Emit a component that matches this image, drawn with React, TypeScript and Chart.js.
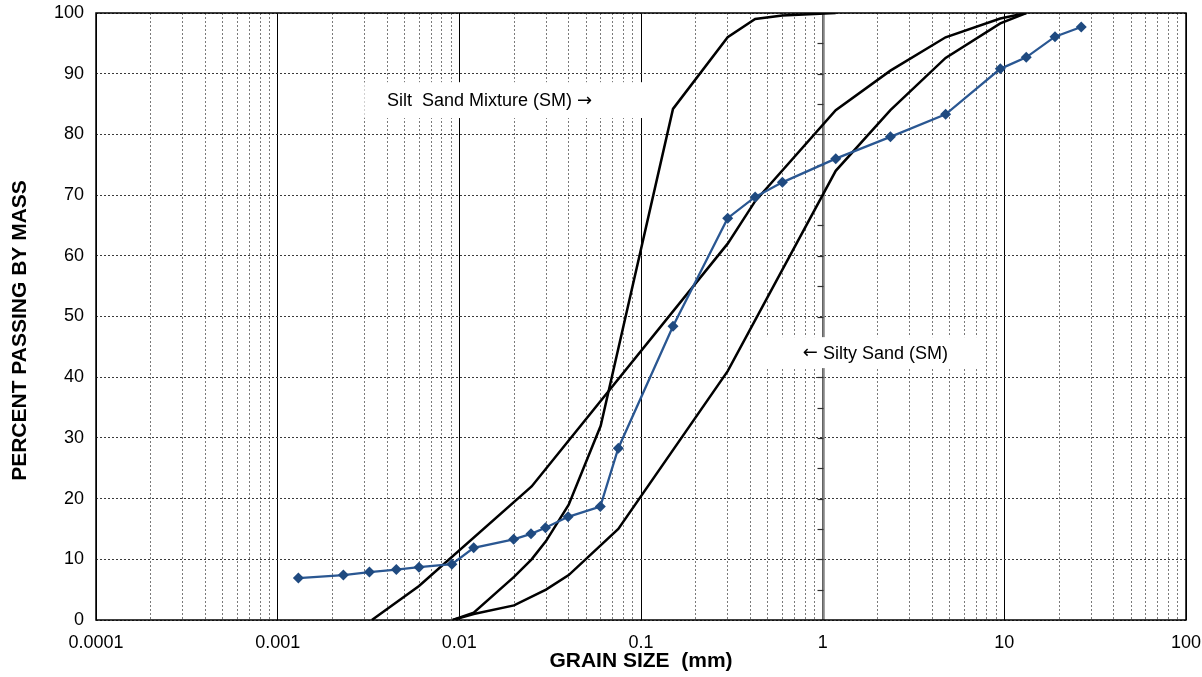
import React, { useEffect, useRef } from "react";
import { Chart, registerables } from "chart.js";

Chart.register(...registerables);

// ---- data (grain size in mm, percent passing) ----
const sampleSize = [0.0013, 0.0023, 0.0032, 0.0045, 0.006, 0.0091, 0.012, 0.0199, 0.0248, 0.0298, 0.0397, 0.0597, 0.075, 0.15, 0.3, 0.425, 0.6, 1.18, 2.36, 4.75, 9.5, 13.2, 19, 26.5];
const samplePassing = [6.9, 7.4, 7.9, 8.3, 8.7, 9.2, 11.9, 13.3, 14.2, 15.2, 17.0, 18.7, 28.3, 48.4, 66.2, 69.7, 72.1, 76.0, 79.6, 83.3, 90.8, 92.7, 96.1, 97.7];

const siltSandSize = [0.0092, 0.012, 0.02, 0.025, 0.03, 0.04, 0.06, 0.15, 0.3, 0.425, 0.6, 1.18];
const siltSandPassing = [0, 1.2, 7.1, 10, 13, 19, 32, 84.2, 96, 99, 99.6, 100];

const siltySandFineSize = [0.0033, 0.006, 0.025, 0.3, 0.425, 1.18, 2.36, 4.75, 9.5, 13.2];
const siltySandFinePassing = [0, 5.6, 22, 62, 69, 84, 90.5, 96, 99.1, 100];

const siltySandCoarseSize = [0.0092, 0.012, 0.02, 0.03, 0.04, 0.075, 0.3, 1.18, 2.36, 4.75, 9.5, 13.2];
const siltySandCoarsePassing = [0, 1, 2.4, 5, 7.4, 15, 41, 74, 84, 92.6, 98.3, 100];

const decadeValues = [0.0001, 0.001, 0.01, 0.1, 1, 10, 100];
const decadeLabels = ["0.0001", "0.001", "0.01", "0.1", "1", "10", "100"];
const gridMultipliers = [1, 2, 3, 4, 5, 6, 7, 8, 9];

const percentTicks = [0, 10, 20, 30, 40, 50, 60, 70, 80, 90, 100];

const yTitle = "PERCENT PASSING BY MASS";
const xTitle = "GRAIN SIZE  (mm)";
const noteTexts = ["Silt  Sand Mixture (SM) ", "\u2192", "\u2190", " Silty Sand (SM)"];

const FONT = "'Liberation Sans', Arial, sans-serif";
const ARROW_FONT = "'DejaVu Sans', sans-serif";

const toPoints = (xs: number[], ys: number[]) => xs.map((x, i) => ({ x, y: ys[i] }));

const isDecade = (v: number) => decadeValues.some((d) => Math.abs(Math.log10(v) - Math.log10(d)) < 1e-6);

const notes = [
  { parts: [{ t: noteTexts[0], f: FONT }, { t: noteTexts[1], f: ARROW_FONT }], x0: 0.003, x1: 0.14, yTop: 88.6, yBottom: 82.7, textX: 0.004 },
  { parts: [{ t: noteTexts[2], f: ARROW_FONT }, { t: noteTexts[3], f: FONT }], x0: 0.486, x1: 7.8, yTop: 46.6, yBottom: 41.5, textX: 0.778 },
];

const decorPlugin = {
  id: "decor",
  beforeDatasetsDraw(chart: any) {
    const { ctx, chartArea, scales } = chart;
    const xs = scales.x;
    const ys = scales.y;
    ctx.save();
    // secondary axis line at 1 mm
    const px = Math.round(xs.getPixelForValue(1)) + 0.5;
    ctx.strokeStyle = "#858585";
    ctx.lineWidth = 2.5;
    ctx.beginPath();
    ctx.moveTo(px, chartArea.top);
    ctx.lineTo(px, chartArea.bottom);
    ctx.stroke();
    ctx.strokeStyle = "#303030";
    ctx.lineWidth = 1.2;
    for (let v = 5; v < 100; v += 5) {
      const py = Math.round(ys.getPixelForValue(v)) + 0.5;
      ctx.beginPath();
      ctx.moveTo(px - 6, py);
      ctx.lineTo(px, py);
      ctx.stroke();
    }
    // plot border
    ctx.strokeStyle = "#000";
    ctx.lineWidth = 1.5;
    ctx.strokeRect(chartArea.left, chartArea.top, chartArea.right - chartArea.left, chartArea.bottom - chartArea.top);
    // annotation boxes
    ctx.textBaseline = "middle";
    ctx.textAlign = "left";
    for (const n of notes) {
      const l = xs.getPixelForValue(n.x0);
      const r = xs.getPixelForValue(n.x1);
      const t = ys.getPixelForValue(n.yTop);
      const b = ys.getPixelForValue(n.yBottom);
      ctx.fillStyle = "#fff";
      ctx.fillRect(l, t, r - l, b - t);
      ctx.fillStyle = "#000";
      let cx = xs.getPixelForValue(n.textX);
      for (const p of n.parts) {
        ctx.font = `18px ${p.f}`;
        ctx.fillText(p.t, cx, (t + b) / 2 + 1);
        cx += ctx.measureText(p.t).width;
      }
    }
    ctx.restore();
  },
  afterDraw(chart: any) {
    const { ctx, chartArea } = chart;
    ctx.save();
    ctx.translate(20, (chartArea.top + chartArea.bottom) / 2 + 14);
    ctx.rotate(-Math.PI / 2);
    ctx.font = `bold 21px ${FONT}`;
    ctx.fillStyle = "#000";
    ctx.textAlign = "center";
    ctx.textBaseline = "middle";
    ctx.fillText(yTitle, 0, 0);
    ctx.restore();
  },
};

export default function App() {
  const ref = useRef<HTMLCanvasElement | null>(null);

  useEffect(() => {
    if (!ref.current) return;
    Chart.defaults.font.family = FONT;
    const blackLine = {
      borderColor: "#000",
      borderWidth: 2.5,
      pointRadius: 0,
      showLine: true,
      fill: false,
      tension: 0,
    };
    const chart = new Chart(ref.current, {
      type: "scatter",
      data: {
        datasets: [
          {
            label: "Sample",
            data: toPoints(sampleSize, samplePassing),
            borderColor: "#2A5792",
            backgroundColor: "#1F4A80",
            borderWidth: 2.3,
            pointStyle: "rectRot",
            pointRadius: 5.5,
            pointBorderWidth: 0,
            showLine: true,
            tension: 0,
          },
          { label: "Silt Sand Mixture", data: toPoints(siltSandSize, siltSandPassing), ...blackLine },
          { label: "Silty Sand fine", data: toPoints(siltySandFineSize, siltySandFinePassing), ...blackLine },
          { label: "Silty Sand coarse", data: toPoints(siltySandCoarseSize, siltySandCoarsePassing), ...blackLine },
        ] as any,
      },
      options: {
        responsive: false,
        animation: false,
        devicePixelRatio: 1,
        layout: { padding: { left: 0, right: 16, top: 13, bottom: 0 } },
        plugins: { legend: { display: false }, tooltip: { enabled: false } },
        scales: {
          x: {
            type: "logarithmic",
            min: 0.0001,
            max: 100,
            afterBuildTicks: (scale: any) => {
              const ticks: any[] = [];
              decadeValues.forEach((d, i) => {
                if (i === decadeValues.length - 1) {
                  ticks.push({ value: d, major: true });
                } else {
                  gridMultipliers.forEach((m) => ticks.push({ value: d * m, major: m === 1 }));
                }
              });
              scale.ticks = ticks;
            },
            afterFit: (scale: any) => {
              scale.height = 57;
              scale.paddingLeft = 0;
              scale.paddingRight = 0;
              scale.paddingTop = 0;
              scale.paddingBottom = 0;
            },
            ticks: {
              autoSkip: false,
              maxRotation: 0,
              minRotation: 0,
              padding: 12,
              color: "#000",
              font: { size: 18 },
              callback: (value: any) => {
                const v = Number(value);
                const i = decadeValues.findIndex((d) => Math.abs(Math.log10(v) - Math.log10(d)) < 1e-6);
                return i >= 0 ? decadeLabels[i] : "";
              },
            },
            grid: {
              drawTicks: false,
              color: (c: any) => (c.tick && isDecade(c.tick.value) ? "#000" : "#7a7a7a"),
              lineWidth: 1,
            },
            border: {
              display: false,
              dash: (c: any) => (c.tick && isDecade(c.tick.value) ? [] : [2, 2]),
            } as any,
            title: {
              display: true,
              text: xTitle,
              color: "#000",
              font: { size: 21, weight: "bold" },
              padding: { top: 0, bottom: 3 },
            },
          },
          y: {
            type: "linear",
            min: 0,
            max: 100,
            afterBuildTicks: (scale: any) => {
              scale.ticks = percentTicks.map((v) => ({ value: v }));
            },
            afterFit: (scale: any) => {
              scale.width = 96;
              scale.paddingLeft = 0;
              scale.paddingRight = 0;
              scale.paddingTop = 0;
              scale.paddingBottom = 0;
            },
            ticks: {
              padding: 12,
              color: "#000",
              font: { size: 18 },
            },
            grid: {
              drawTicks: false,
              color: "#3a3a3a",
              lineWidth: 1,
            },
            border: { display: false, dash: [2, 2] } as any,
            title: { display: false },
          },
        },
      },
      plugins: [decorPlugin],
    });
    return () => chart.destroy();
  }, []);

  return (
    <div style={{ position: "fixed", left: 0, top: 0, width: 1202, height: 677, background: "#fff" }}>
      <canvas ref={ref} width={1202} height={677} style={{ display: "block" }} />
    </div>
  );
}
